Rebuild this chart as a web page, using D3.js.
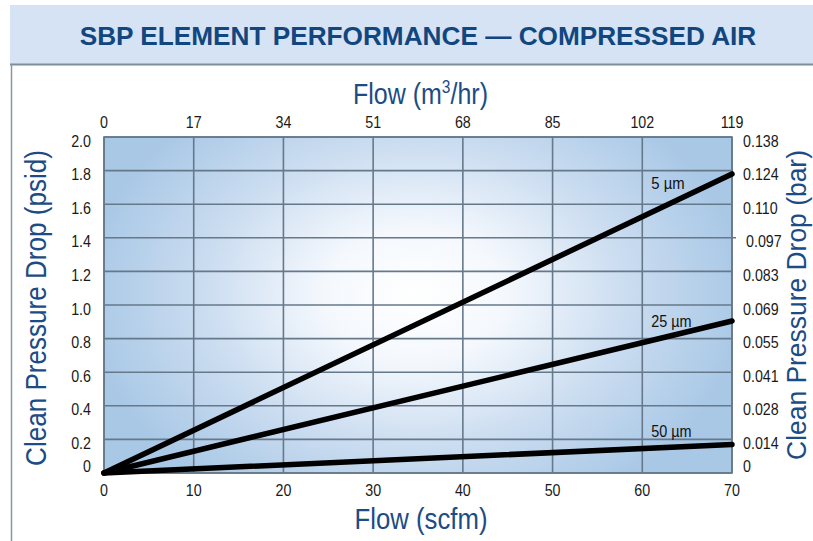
<!DOCTYPE html>
<html><head><meta charset="utf-8">
<script src="https://cdn.jsdelivr.net/npm/d3@7"></script>
<style>body{margin:0;background:#fff}svg{display:block}</style></head>
<body><svg id="c" width="813" height="541"></svg>
<script>
// ---- data ----
const titleText = "SBP ELEMENT PERFORMANCE \u2014 COMPRESSED AIR";
const flowScfmTicks = [0, 10, 20, 30, 40, 50, 60, 70];
const flowM3Labels = ["0", "17", "34", "51", "68", "85", "102", "119"];
const psidTicks = [0, 0.2, 0.4, 0.6, 0.8, 1.0, 1.2, 1.4, 1.6, 1.8, 2.0];
const psidLabels = ["0", "0.2", "0.4", "0.6", "0.8", "1.0", "1.2", "1.4", "1.6", "1.8", "2.0"];
const barLabels = ["0", "0.014", "0.028", "0.041", "0.055", "0.069", "0.083", "0.097", "0.110", "0.124", "0.138"];
const seriesNames = ["5 \u00b5m", "25 \u00b5m", "50 \u00b5m"];
const seriesFlow = [0, 70];
const series5um = [0, 1.78];
const series25um = [0, 0.905];
const series50um = [0, 0.17];

const FONT = "'Liberation Sans','Arial',sans-serif";
const NAVY = "#1b4c85";
const svg = d3.select("#c");

const x = d3.scaleLinear().domain([0, 70]).range([104, 732]);
const y = d3.scaleLinear().domain([0, 2]).range([473, 137]);

// condensed text helper: horizontal scaling along the text direction
function ctext(parent, o) {
  const g = parent.append("g").attr("transform", `translate(${o.x},${o.y})` + (o.rot ? ` rotate(${o.rot})` : ""));
  const t = g.append("text").attr("text-anchor", o.anchor || "middle")
    .attr("font-family", FONT).attr("font-size", o.size).attr("font-weight", o.weight || "normal")
    .attr("fill", o.fill || "#1a1a1a");
  if (o.build) o.build(t); else t.text(o.text);
  let sx = o.sx || 1;
  if (o.width) sx = o.width / t.node().getComputedTextLength();
  t.attr("transform", `scale(${sx.toFixed(4)},1)`);
  return t;
}

// title band
svg.append("rect").attr("x", 10).attr("y", 5).attr("width", 803).attr("height", 59).attr("fill", "#d5e3f4");
svg.append("line").attr("x1", 10).attr("x2", 813).attr("y1", 64.5).attr("y2", 64.5).attr("stroke", "#7d8d99").attr("stroke-width", 2);
svg.append("line").attr("x1", 11.5).attr("x2", 11.5).attr("y1", 64).attr("y2", 541).attr("stroke", "#8a98a4").attr("stroke-width", 1.5);
ctext(svg, {x: 418, y: 45, size: 25, weight: "bold", fill: "#12467f", text: titleText, width: 677});

// gradient
const defs = svg.append("defs");
const g = defs.append("radialGradient").attr("id", "bg").attr("gradientUnits", "userSpaceOnUse")
  .attr("cx", 0).attr("cy", 0).attr("r", 330)
  .attr("gradientTransform", "translate(415,295) scale(1,0.72)");
[[0, "#ffffff"], [0.28, "#f4f8fd"], [0.65, "#cadcf0"], [1, "#a9c8e6"]].forEach(s =>
  g.append("stop").attr("offset", s[0]).attr("stop-color", s[1]));

svg.append("rect").attr("x", x(0)).attr("y", y(2)).attr("width", x(70) - x(0)).attr("height", y(0) - y(2)).attr("fill", "url(#bg)");

// grid
const GRID = "#66798a";
svg.append("g").selectAll("line").data(flowScfmTicks).join("line")
  .attr("x1", d => x(d)).attr("x2", d => x(d)).attr("y1", y(2)).attr("y2", y(0))
  .attr("stroke", GRID).attr("stroke-width", 1.6);
svg.append("g").selectAll("line").data(psidTicks).join("line")
  .attr("x1", x(0)).attr("x2", (d, i) => i === 7 ? x(70) + 4 : x(70)).attr("y1", d => y(d)).attr("y2", d => y(d))
  .attr("stroke", GRID).attr("stroke-width", 1.6);
svg.append("rect").attr("x", x(0)).attr("y", y(2)).attr("width", x(70) - x(0)).attr("height", y(0) - y(2))
  .attr("fill", "none").attr("stroke", GRID).attr("stroke-width", 1.6);

// tick labels
const TS = 17, TSX = 0.84;
const gt = svg.append("g");
flowScfmTicks.forEach(d => ctext(gt, {x: x(d), y: 496, size: TS, sx: TSX, text: d}));
flowM3Labels.forEach((d, i) => ctext(gt, {x: x(flowScfmTicks[i]), y: 128, size: TS, sx: TSX, text: d}));
psidLabels.forEach((d, i) => ctext(gt, {x: 91, y: y(psidTicks[i]) + (i === 0 ? -1 : 9.5), anchor: "end", size: TS, sx: TSX, text: d}));
barLabels.forEach((d, i) => ctext(gt, {x: i === 7 ? 746 : 743, y: y(psidTicks[i]) + (i === 0 ? -1 : 9.5), anchor: "start", size: TS, sx: TSX, text: d}));

// axis titles
ctext(svg, {x: 420.5, y: 104, size: 29, fill: NAVY, width: 135, build: t => {
  t.append("tspan").text("Flow (m");
  t.append("tspan").attr("font-size", "62%").attr("dy", -11).text("3");
  t.append("tspan").attr("dy", 11).text("/hr)");
}});
ctext(svg, {x: 421, y: 529, size: 29, fill: NAVY, width: 133, text: "Flow (scfm)"});
ctext(svg, {x: 46, y: 308, rot: -90, size: 29, fill: NAVY, width: 316, text: "Clean Pressure Drop (psid)"});
ctext(svg, {x: 806, y: 305, rot: -90, size: 28, fill: NAVY, width: 310, text: "Clean Pressure Drop (bar)"});

// series lines
const allSeries = [series5um, series25um, series50um];
const line = d3.line().x((d, i) => x(seriesFlow[i])).y(d => y(d));
svg.append("g").selectAll("path").data(allSeries).join("path")
  .attr("d", d => line(d)).attr("fill", "none").attr("stroke", "#000").attr("stroke-width", 5.5)
  .attr("stroke-linecap", "round");

// series labels (placed just above each line near its right end)
const labelStart = 61, labelEnd = 65.5, labelLift = [4.5, 4, 9];
const gl = svg.append("g");
seriesNames.forEach((name, i) => {
  const s = allSeries[i];
  const v = s[0] + (s[1] - s[0]) * (labelEnd - seriesFlow[0]) / (seriesFlow[1] - seriesFlow[0]);
  ctext(gl, {x: x(labelStart), y: y(v) - labelLift[i], anchor: "start", size: 16, fill: "#111",
    width: x(labelEnd) - x(labelStart) - (i === 0 ? 7 : 0), text: name});
});
</script></body></html>
